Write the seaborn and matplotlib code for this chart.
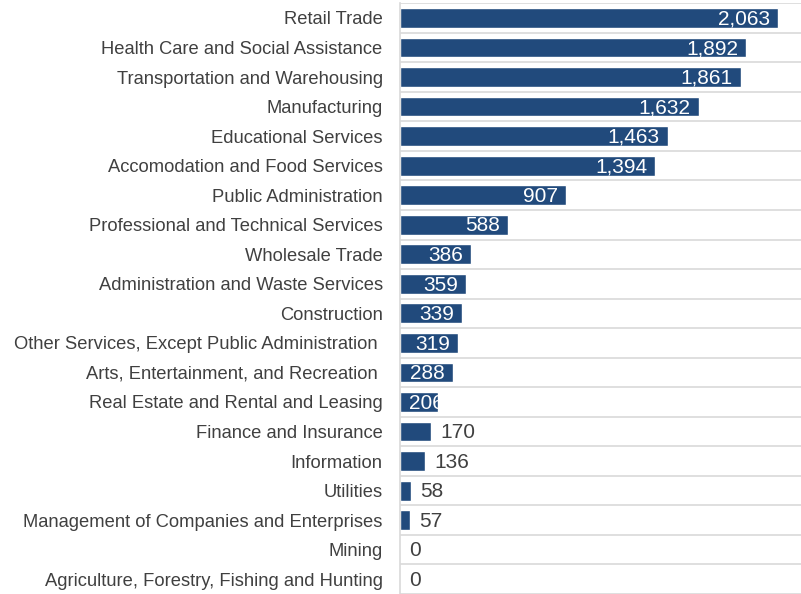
import matplotlib
matplotlib.use("Agg")
import matplotlib.pyplot as plt
import seaborn as sns
import numpy as np
import pandas as pd

categories = [
    "Retail Trade",
    "Health Care and Social Assistance",
    "Transportation and Warehousing",
    "Manufacturing",
    "Educational Services",
    "Accomodation and Food Services",
    "Public Administration",
    "Professional and Technical Services",
    "Wholesale Trade",
    "Administration and Waste Services",
    "Construction",
    "Other Services, Except Public Administration ",
    "Arts, Entertainment, and Recreation ",
    "Real Estate and Rental and Leasing",
    "Finance and Insurance",
    "Information",
    "Utilities",
    "Management of Companies and Enterprises",
    "Mining",
    "Agriculture, Forestry, Fishing and Hunting",
]
values = [2063, 1892, 1861, 1632, 1463, 1394, 907, 588, 386, 359,
          339, 319, 288, 206, 170, 136, 58, 57, 0, 0]

df = pd.DataFrame({"category": categories, "value": values})

sns.set_theme(style="white")
plt.rcParams["font.family"] = ["Liberation Sans", "DejaVu Sans"]

bar_color = "#214A7C"
grid_color = "#D9D9D9"
text_grey = "#404040"

fig = plt.figure(figsize=(8.01, 5.94), dpi=100)
ax = fig.add_axes([0.4994, 0.0, 0.5006, 0.9946])

sns.barplot(data=df, y="category", x="value", orient="h", color=bar_color,
            width=0.67, saturation=1, ax=ax, zorder=2)

ax.set_xlim(0, 2190)
n = len(categories)
ax.set_ylim(n - 0.5, -0.5)
ax.set_xlabel("")
ax.set_ylabel("")
ax.set_xticks([])
ax.tick_params(axis="y", length=0, pad=12.5, labelsize=13.2, labelcolor=text_grey)

ax.set_yticks(np.arange(-0.5, n, 1.0), minor=True)
ax.tick_params(axis="y", which="minor", length=0)
ax.grid(which="minor", axis="y", color=grid_color, linewidth=1.2, zorder=0)
ax.grid(which="major", visible=False)

for s in ["top", "right", "bottom"]:
    ax.spines[s].set_visible(False)
ax.spines["left"].set_color(grid_color)
ax.spines["left"].set_linewidth(1.2)

for i, v in enumerate(values):
    label = f"{v:,}"
    if v >= 200:
        ax.text(max(v - 44, 241), i + 0.04, label, ha="right", va="center",
                color="white", fontsize=15, zorder=3)
    else:
        ax.text(v + 50, i + 0.04, label, ha="left", va="center",
                color=text_grey, fontsize=15, zorder=3)

fig.savefig("out.png", dpi=100)
